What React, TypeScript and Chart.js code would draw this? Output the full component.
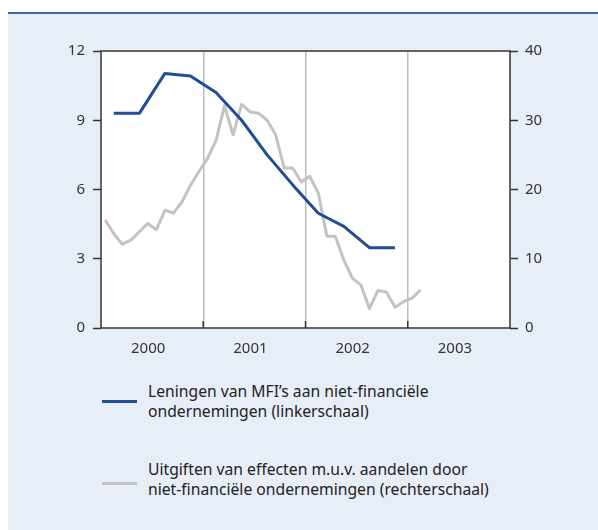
import React, { useEffect, useRef } from 'react';
import { Chart, registerables } from 'chart.js';

Chart.register(...registerables);

// ---- data ----
const loanQuarters = [
  '2000Q1', '2000Q2', '2000Q3', '2000Q4',
  '2001Q1', '2001Q2', '2001Q3', '2001Q4',
  '2002Q1', '2002Q2', '2002Q3', '2002Q4',
];
const loanValues = [9.3, 9.3, 11.03, 10.92, 10.2, 9.0, 7.5, 6.2, 4.97, 4.4, 3.48, 3.48];

const issueMonths = [
  '2000-01', '2000-02', '2000-03', '2000-04', '2000-05', '2000-06',
  '2000-07', '2000-08', '2000-09', '2000-10', '2000-11', '2000-12',
  '2001-01', '2001-02', '2001-03', '2001-04', '2001-05', '2001-06',
  '2001-07', '2001-08', '2001-09', '2001-10', '2001-11', '2001-12',
  '2002-01', '2002-02', '2002-03', '2002-04', '2002-05', '2002-06',
  '2002-07', '2002-08', '2002-09', '2002-10', '2002-11', '2002-12',
  '2003-01', '2003-02',
];
const issueValues = [
  15.6, 13.6, 12.1, 12.7, 13.9, 15.1, 14.2, 17.0, 16.6, 18.2, 20.6, 22.6,
  24.5, 27.1, 32.1, 27.9, 32.3, 31.2, 31.0, 30.0, 27.9, 23.1, 23.1, 21.1,
  21.9, 19.5, 13.3, 13.2, 9.8, 7.2, 6.2, 2.8, 5.4, 5.2, 3.0, 3.8, 4.3, 5.5,
];

const yearLabels = ['2000', '2001', '2002', '2003'];
const leftTicks = [0, 3, 6, 9, 12];
const rightTicks = [0, 10, 20, 30, 40];

const loanLabel = ['Leningen van MFI\u2019s aan niet-financi\u00eble', 'ondernemingen (linkerschaal)'];
const issueLabel = ['Uitgiften van effecten m.u.v. aandelen door', 'niet-financi\u00eble ondernemingen (rechterschaal)'];

const BLUE = '#1f4e96';
const GREY = '#c3c3c3';
const BG = '#e7eef7';
const AXIS = '#333333';
const FONT = '"Noto Sans", sans-serif';

const startYear = Number(yearLabels[0]);
const quarterToX = (q: string) => {
  const y = Number(q.slice(0, 4));
  const n = Number(q.slice(5));
  return (y - startYear) * 12 + (n - 1) * 3 + 1.5;
};
const monthToX = (m: string) => {
  const y = Number(m.slice(0, 4));
  const n = Number(m.slice(5));
  return (y - startYear) * 12 + (n - 1) + 0.5;
};

const framePlugin = {
  id: 'frame',
  beforeDraw(chart: any) {
    const { ctx, chartArea } = chart;
    ctx.save();
    ctx.fillStyle = '#ffffff';
    ctx.fillRect(chartArea.left, chartArea.top, chartArea.right - chartArea.left, chartArea.bottom - chartArea.top);
    ctx.restore();
  },
  afterDatasetsDraw(chart: any) {
    const { ctx, chartArea, scales } = chart;
    ctx.save();
    ctx.strokeStyle = AXIS;
    ctx.lineWidth = 1.5;
    ctx.strokeRect(chartArea.left, chartArea.top, chartArea.right - chartArea.left, chartArea.bottom - chartArea.top);
    // inner year-boundary ticks
    const xs = scales.x;
    for (let i = 1; i < yearLabels.length; i++) {
      const px = xs.getPixelForValue(i * 12);
      ctx.beginPath();
      ctx.moveTo(px, chartArea.bottom);
      ctx.lineTo(px, chartArea.bottom - 7);
      ctx.stroke();
    }
    ctx.restore();
  },
};

export default function App() {
  const ref = useRef<HTMLCanvasElement | null>(null);

  useEffect(() => {
    if (!ref.current) return;
    const chart = new Chart(ref.current, {
      type: 'line',
      data: {
        datasets: [
          {
            label: loanLabel.join(' '),
            data: loanQuarters.map((q, i) => ({ x: quarterToX(q), y: loanValues[i] })),
            borderColor: BLUE,
            borderWidth: 3,
            pointRadius: 0,
            tension: 0,
            yAxisID: 'yL',
            borderJoinStyle: 'round',
          },
          {
            label: issueLabel.join(' '),
            data: issueMonths.map((m, i) => ({ x: monthToX(m), y: issueValues[i] })),
            borderColor: GREY,
            borderWidth: 3,
            pointRadius: 0,
            tension: 0,
            yAxisID: 'yR',
            borderJoinStyle: 'round',
          },
        ],
      },
      options: {
        responsive: false,
        animation: false,
        layout: { padding: { top: 37, left: 0, right: 0, bottom: 0 } },
        plugins: { legend: { display: false }, tooltip: { enabled: false } },
        scales: {
          x: {
            type: 'linear',
            min: 0,
            max: yearLabels.length * 12,
            afterBuildTicks: (s: any) => {
              const t: any[] = [];
              for (let v = 0; v <= yearLabels.length * 12; v += 6) t.push({ value: v });
              s.ticks = t;
            },
            afterFit: (s: any) => { s.height = 32; },
            border: { display: false },
            grid: {
              drawTicks: false,
              lineWidth: 1.5,
              color: (c: any) => {
                const v = c.tick ? c.tick.value : 0;
                return v % 12 === 0 && v > 0 && v < yearLabels.length * 12 ? '#bdbdbd' : 'transparent';
              },
            },
            ticks: {
              autoSkip: false,
              maxRotation: 0,
              padding: 12,
              labelOffset: -4,
              color: AXIS,
              font: { family: FONT, size: 15 },
              callback: (v: any) => (Number(v) % 12 === 6 ? yearLabels[(Number(v) - 6) / 12] : ''),
            },
          },
          yL: {
            type: 'linear',
            position: 'left',
            min: 0,
            max: 12,
            afterBuildTicks: (s: any) => { s.ticks = leftTicks.map((v) => ({ value: v })); },
            afterFit: (s: any) => { s.width = 93; },
            border: { display: false },
            grid: { drawOnChartArea: false, tickLength: 8, tickColor: AXIS, tickWidth: 1.5 },
            ticks: { padding: 8, color: AXIS, font: { family: FONT, size: 15 } },
          },
          yR: {
            type: 'linear',
            position: 'right',
            min: 0,
            max: 40,
            afterBuildTicks: (s: any) => { s.ticks = rightTicks.map((v) => ({ value: v })); },
            afterFit: (s: any) => { s.width = 88; },
            border: { display: false },
            grid: { drawOnChartArea: false, tickLength: 8, tickColor: AXIS, tickWidth: 1.5 },
            ticks: { padding: 7, color: AXIS, font: { family: FONT, size: 15 } },
          },
        },
      } as any,
      plugins: [framePlugin],
    });
    return () => chart.destroy();
  }, []);

  const textStyle: React.CSSProperties = {
    position: 'absolute',
    left: 140,
    fontFamily: FONT,
    fontSize: 15.7,
    lineHeight: '20px',
    color: '#222',
    whiteSpace: 'nowrap',
  };

  return (
    <div style={{ position: 'fixed', left: 8, top: 8, right: 0, bottom: 0, background: '#fff', overflow: 'hidden' }}>
      <div style={{ position: 'absolute', left: 0, right: 0, top: 4, bottom: 0, background: BG, borderTop: '2px solid #3d68ad' }} />
      <div style={{ position: 'absolute', left: 0, top: 6, width: 590, height: 346 }}>
        <canvas ref={ref} width={590} height={346} style={{ width: 590, height: 346, display: 'block' }} />
      </div>
      <div style={{ position: 'absolute', left: 94, top: 392, width: 35, height: 3, background: BLUE }} />
      <div style={{ ...textStyle, top: 373 }}>
        {loanLabel.map((l, i) => <div key={i}>{l}</div>)}
      </div>
      <div style={{ position: 'absolute', left: 94, top: 474, width: 35, height: 3, background: GREY }} />
      <div style={{ ...textStyle, top: 451 }}>
        {issueLabel.map((l, i) => <div key={i}>{l}</div>)}
      </div>
    </div>
  );
}
